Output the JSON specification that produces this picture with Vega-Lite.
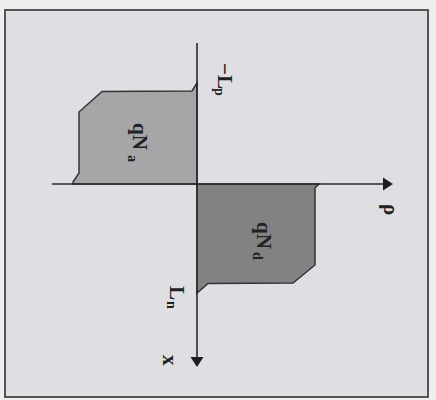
{
  "$schema": "https://vega.github.io/schema/vega-lite/v6.json",
  "width": 423,
  "height": 387,
  "autosize": "none",
  "padding": {"left": 5, "top": 10, "right": 8, "bottom": 3},
  "background": "#eeeeee",
  "view": {"fill": "#dfdfe3", "stroke": "#555555", "strokeWidth": 2},
  "datasets": {
    "charge": [
      {"region": "acceptor", "p": -101, "rho": 0},
      {"region": "acceptor", "p": -93, "rho": -5},
      {"region": "acceptor", "p": -92.5, "rho": -95},
      {"region": "acceptor", "p": -72, "rho": -118},
      {"region": "acceptor", "p": -11, "rho": -118},
      {"region": "acceptor", "p": -2, "rho": -124},
      {"region": "acceptor", "p": 0, "rho": -124},
      {"region": "donor", "p": 0, "rho": 122},
      {"region": "donor", "p": 4, "rho": 118},
      {"region": "donor", "p": 81, "rho": 118},
      {"region": "donor", "p": 99, "rho": 96},
      {"region": "donor", "p": 99.5, "rho": 11},
      {"region": "donor", "p": 109, "rho": 0}
    ],
    "axes": [
      {"rho": -145, "rho2": 188, "p": 0, "p2": 0},
      {"rho": 0, "rho2": 0, "p": -141, "p2": 176}
    ],
    "labels": [
      {"rho": -64, "p": -61, "t": "qN"},
      {"rho": 60, "p": 38, "t": "qN"},
      {"rho": 21, "p": -121, "t": "−L"},
      {"rho": -27, "p": 102, "t": "L"},
      {"rho": 187, "p": 20, "t": "ρ"},
      {"rho": -34, "p": 171, "t": "x"}
    ],
    "subscripts": [
      {"rho": -69, "p": -29, "t": "a"},
      {"rho": 56, "p": 68, "t": "d"},
      {"rho": 18, "p": -96, "t": "p"},
      {"rho": -30, "p": 117, "t": "n"}
    ]
  },
  "encoding": {
    "x": {"field": "rho", "type": "quantitative", "axis": null,
          "scale": {"domain": [-192, 231], "nice": false, "zero": false}},
    "y": {"field": "p", "type": "quantitative", "axis": null,
          "scale": {"domain": [-174, 213], "nice": false, "zero": false, "reverse": true}}
  },
  "layer": [
    {
      "data": {"name": "charge"},
      "mark": {"type": "area", "orient": "horizontal", "stroke": "#333333", "strokeWidth": 1.5, "opacity": 1},
      "encoding": {
        "x": {"field": "rho", "type": "quantitative", "stack": null},
        "x2": {"datum": 0},
        "color": {"field": "region", "type": "nominal", "legend": null,
                  "scale": {"domain": ["acceptor", "donor"], "range": ["#a6a6a8", "#828284"]}}
      }
    },
    {
      "data": {"name": "axes"},
      "mark": {"type": "rule", "color": "#2a2a2a", "strokeWidth": 1.6},
      "encoding": {
        "x2": {"field": "rho2"},
        "y2": {"field": "p2"}
      }
    },
    {
      "data": {"values": [{"rho": 191, "p": 0}]},
      "mark": {"type": "point", "filled": true, "color": "#1e1e1e", "opacity": 1, "size": 169,
               "shape": "M-0.77,-1L0.77,0L-0.77,1Z"},
      "encoding": {}
    },
    {
      "data": {"values": [{"rho": 0, "p": 178}]},
      "mark": {"type": "point", "filled": true, "color": "#1e1e1e", "opacity": 1, "size": 169,
               "shape": "M-1,-0.77L1,-0.77L0,0.77Z"},
      "encoding": {}
    },
    {
      "data": {"name": "labels"},
      "mark": {"type": "text", "angle": 90, "align": "left", "baseline": "alphabetic",
               "font": "Liberation Serif", "fontSize": 21, "fontWeight": "bold", "color": "#222222"},
      "encoding": {"text": {"field": "t"}}
    },
    {
      "data": {"name": "subscripts"},
      "mark": {"type": "text", "angle": 90, "align": "left", "baseline": "alphabetic",
               "font": "Liberation Serif", "fontSize": 14, "fontWeight": "bold", "color": "#222222"},
      "encoding": {"text": {"field": "t"}}
    }
  ]
}
